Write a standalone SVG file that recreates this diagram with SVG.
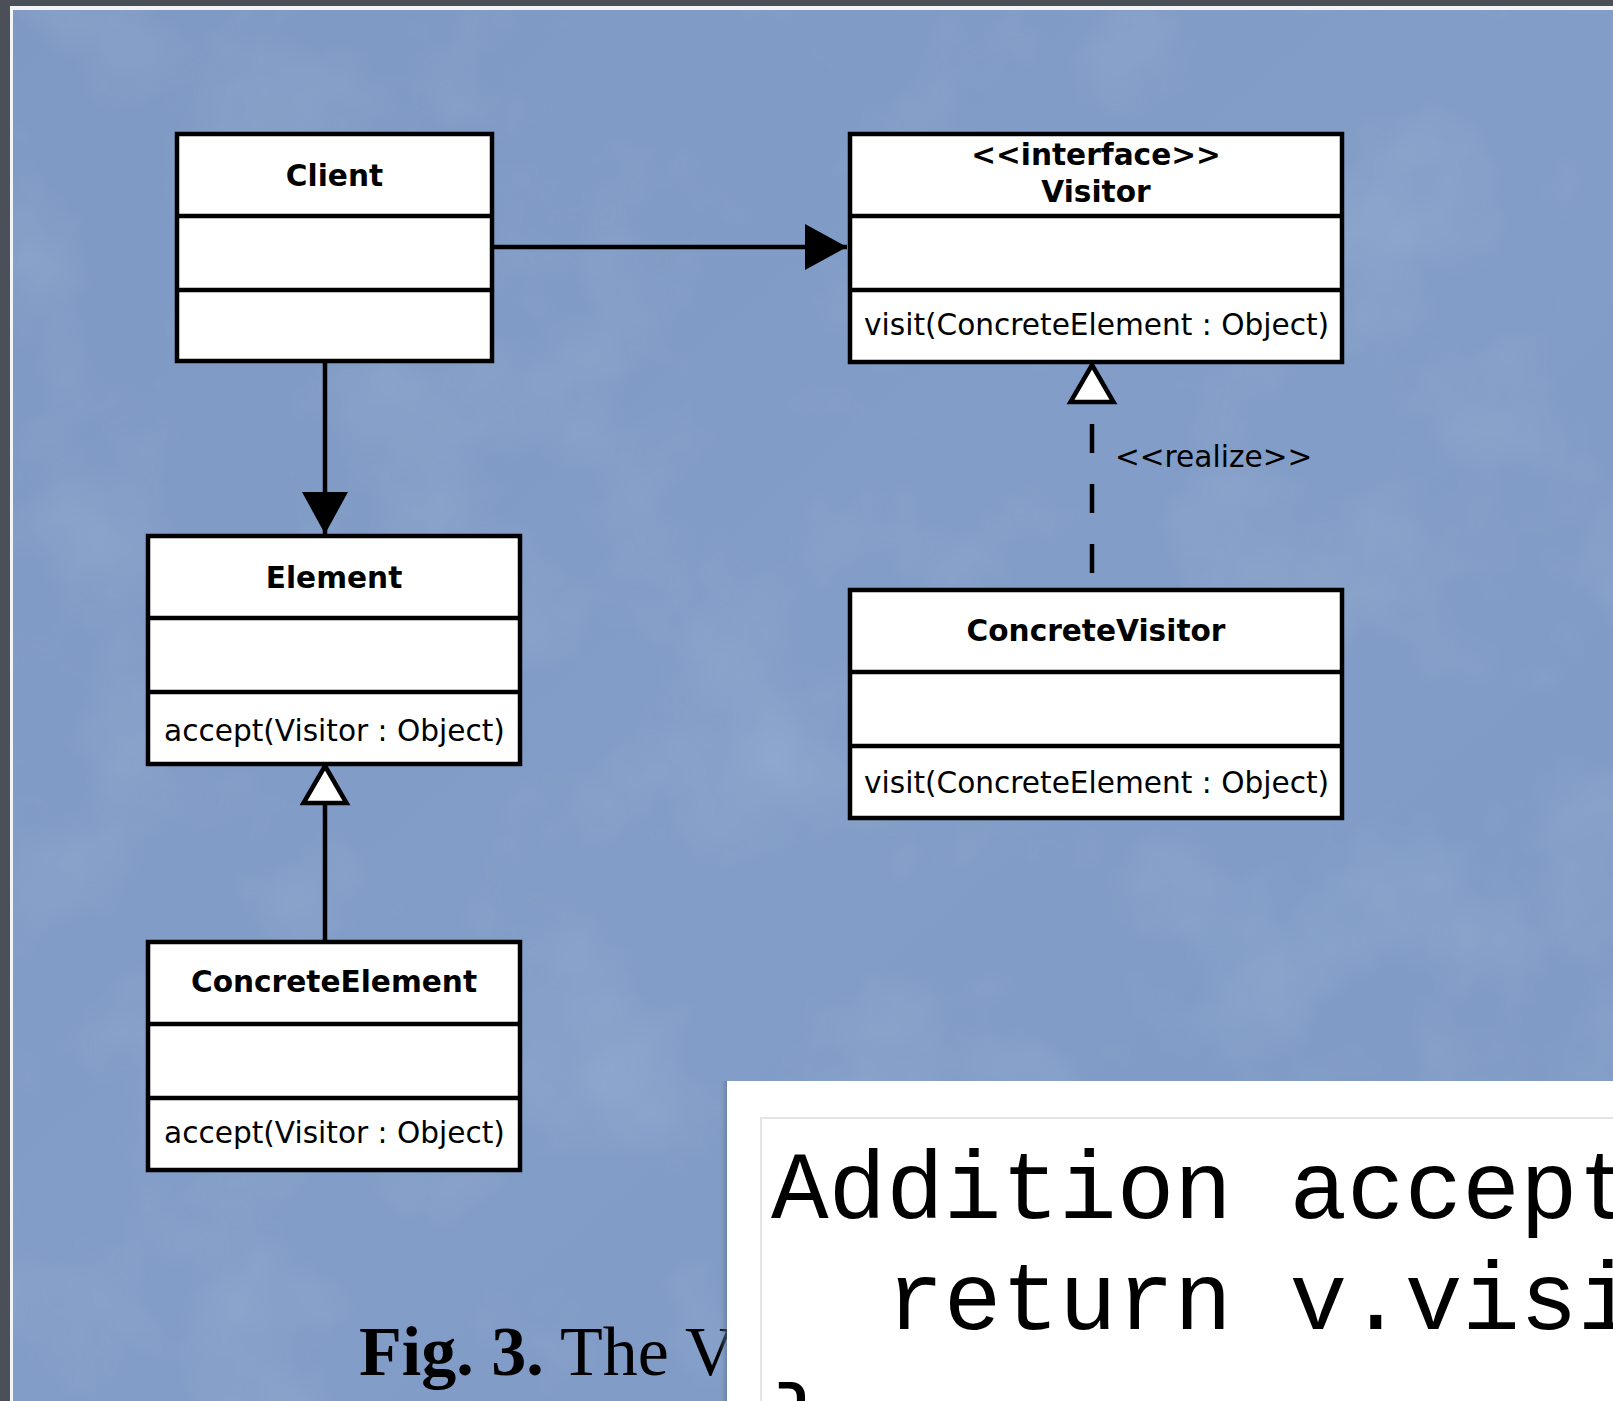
<svg xmlns="http://www.w3.org/2000/svg" width="1613" height="1401" viewBox="0 0 1613 1401">
<style>
.box{fill:#fff;stroke:#000;stroke-width:4.5}
.div{stroke:#000;stroke-width:4.5}
.t{font-family:"DejaVu Sans",sans-serif;font-size:29.6px;fill:#000}
.b{font-weight:bold;text-anchor:middle}
.ln{stroke:#000;stroke-width:4.5;fill:none}
.code{font-family:"Liberation Mono","Courier New",monospace;font-size:96px;fill:#000;white-space:pre}
.fig{font-family:"Liberation Serif","Times New Roman",serif;font-size:70px;fill:#000}
</style>
<defs>
<marker id="filled" markerUnits="userSpaceOnUse" markerWidth="42" markerHeight="46" refX="42" refY="23" orient="auto">
<path d="M0,0 L42,23 L0,46 z" fill="#000"/>
</marker>
<path id="hollow" d="M0,0 L21.5,37 L-21.5,37 z" fill="#fff" stroke="#000" stroke-width="4.5" stroke-linejoin="miter"/>
<linearGradient id="bg" x1="0" y1="0" x2="1" y2="1">
<stop offset="0" stop-color="#7e99c3"/>
<stop offset="0.5" stop-color="#829dc7"/>
<stop offset="1" stop-color="#7f9bc5"/>
</linearGradient>
<linearGradient id="shadow" x1="0" y1="0" x2="1" y2="0">
<stop offset="0" stop-color="#7f9bc5" stop-opacity="0"/>
<stop offset="1" stop-color="#5a6f90" stop-opacity="0.6"/>
</linearGradient>
<filter id="mottle" x="0" y="0" width="100%" height="100%">
<feTurbulence type="fractalNoise" baseFrequency="0.006" numOctaves="4" seed="7" result="n"/>
<feColorMatrix in="n" type="matrix" values="0 0 0 0 0.45  0 0 0 0 0.55  0 0 0 0 0.75  0 0 0 1.6 -0.75"/>
</filter>
</defs>
<rect x="0" y="0" width="1613" height="1401" fill="#4b4f57"/>
<rect x="10" y="6" width="1603" height="1395" fill="#f2f4f8"/>
<rect x="13" y="10" width="1600" height="1391" fill="url(#bg)"/>
<rect x="13" y="10" width="1600" height="1391" filter="url(#mottle)" opacity="0.35"/>

<g id="connectors">
<line class="ln" x1="492" y1="247" x2="847" y2="247" marker-end="url(#filled)"/>
<line class="ln" x1="325" y1="361" x2="325" y2="534" marker-end="url(#filled)"/>
<line class="ln" x1="1092" y1="573" x2="1092" y2="424" stroke-dasharray="29 31"/>
<use href="#hollow" x="1092" y="365"/>
<line class="ln" x1="325" y1="942" x2="325" y2="803"/>
<use href="#hollow" x="325" y="766"/>
<text class="t" x="1115" y="467">&lt;&lt;realize&gt;&gt;</text>
</g>

<g id="client">
<rect class="box" x="177" y="134" width="315" height="227"/>
<line class="div" x1="177" y1="216" x2="492" y2="216"/>
<line class="div" x1="177" y1="290" x2="492" y2="290"/>
<text class="t b" x="334.5" y="186">Client</text>
</g>

<g id="visitor">
<rect class="box" x="850" y="134" width="492" height="228"/>
<line class="div" x1="850" y1="216" x2="1342" y2="216"/>
<line class="div" x1="850" y1="290" x2="1342" y2="290"/>
<text class="t b" x="1096" y="165">&lt;&lt;interface&gt;&gt;</text>
<text class="t b" x="1096" y="202">Visitor</text>
<text class="t" x="864" y="335">visit(ConcreteElement : Object)</text>
</g>

<g id="concretevisitor">
<rect class="box" x="850" y="590" width="492" height="228"/>
<line class="div" x1="850" y1="672" x2="1342" y2="672"/>
<line class="div" x1="850" y1="746" x2="1342" y2="746"/>
<text class="t b" x="1096" y="641">ConcreteVisitor</text>
<text class="t" x="864" y="793">visit(ConcreteElement : Object)</text>
</g>

<g id="element">
<rect class="box" x="148" y="536" width="372" height="228"/>
<line class="div" x1="148" y1="618" x2="520" y2="618"/>
<line class="div" x1="148" y1="692" x2="520" y2="692"/>
<text class="t b" x="334" y="588">Element</text>
<text class="t" x="164" y="741">accept(Visitor : Object)</text>
</g>

<g id="concreteelement">
<rect class="box" x="148" y="942" width="372" height="228"/>
<line class="div" x1="148" y1="1024" x2="520" y2="1024"/>
<line class="div" x1="148" y1="1098" x2="520" y2="1098"/>
<text class="t b" x="334" y="992">ConcreteElement</text>
<text class="t" x="164" y="1143">accept(Visitor : Object)</text>
</g>

<g id="caption">
<text class="fig" x="359" y="1375"><tspan font-weight="bold">Fig. 3.</tspan> The V</text>
</g>

<g id="code-panel">
<rect x="719" y="1081" width="8" height="320" fill="url(#shadow)"/>
<rect x="727" y="1081" width="886" height="320" fill="#fff"/>
<path d="M761,1401 V1118 H1613" fill="none" stroke="#e4e4e4" stroke-width="2"/>
<text class="code" x="771" y="1218">Addition accept</text>
<text class="code" x="771" y="1329">  return v.visi</text>
<text class="code" x="771" y="1452">}</text>
</g>
</svg>
